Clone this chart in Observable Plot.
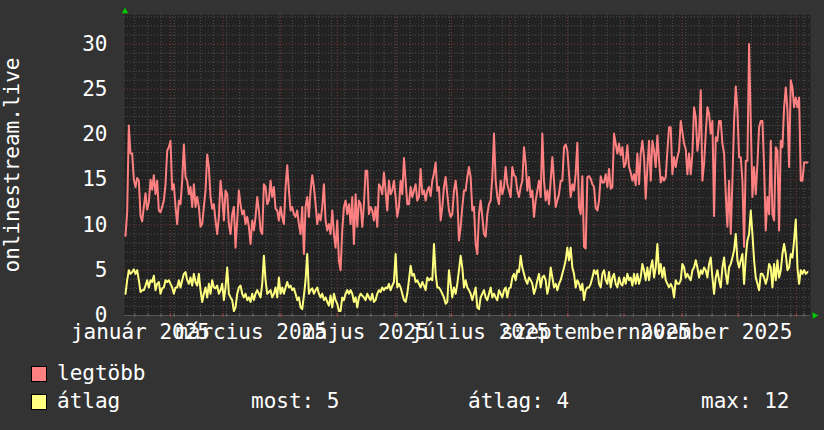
<!DOCTYPE html>
<html>
<head>
<meta charset="utf-8">
<script src="https://cdn.jsdelivr.net/npm/d3@7"></script>
<script src="https://cdn.jsdelivr.net/npm/@observablehq/plot@0.6"></script>
<style>
  html, body { margin: 0; padding: 0; background: #333333; }
  #wrap { position: relative; width: 824px; height: 430px; background: #333333; overflow: hidden;
          font-family: "DejaVu Sans Mono", monospace; color: #ffffff; }
  #chart svg { display: block; }
  .sw { position: absolute; width: 14px; height: 14px; border: 1px solid #000; }
  .lt { position: absolute; font-size: 21px; line-height: 24px; white-space: pre; }
</style>
</head>
<body>
<div id="wrap">
  <div id="chart"></div>
  <div id="legend"></div>
</div>
<script>
// ---------------- data ----------------
const axisTitle = "onlinestream.live";
const seriesNames = ["legtöbb", "átlag"];
const seriesColors = ["#ff8080", "#ffff80"];
const statLabels = ["most: 5", "átlag: 4", "max: 12"];

const yTicks = [0, 5, 10, 15, 20, 25, 30];
const yMax = 33.26;

const xLabels = ["január 2025", "március 2025", "május 2025", "július 2025", "szeptember 2025", "november 2025"];
const xLabelDates = ["2025-01-16", "2025-03-16", "2025-05-16", "2025-07-16", "2025-09-16", "2025-11-16"];

const rangeStart = "2025-01-07T12:00:00Z";
const rangeEnd = "2026-01-08T12:00:00Z";
const firstSample = "2025-01-08T00:48:00Z";
const sampleStepHours = 21.35;

const legtobb = [
  8.8, 11.4, 21.0, 17.9, 17.9, 15.0, 14.2, 15.2, 14.9, 11.0,
  10.4, 12.0, 13.5, 11.7, 12.5, 15.0, 13.9, 15.5, 13.4, 14.9,
  11.6, 11.4, 12.0, 12.7, 14.5, 18.2, 18.6, 19.3, 13.9, 14.5,
  12.0, 10.1, 12.7, 12.3, 14.9, 18.9, 15.3, 14.9, 13.4, 14.2,
  12.0, 14.5, 12.0, 13.1, 12.0, 9.8, 10.1, 12.0, 13.8, 17.8,
  16.4, 13.1, 11.8, 12.3, 10.5, 9.0, 10.9, 14.9, 13.1, 10.5,
  13.8, 13.4, 10.1, 9.0, 11.2, 12.0, 7.5, 10.5, 13.8, 12.3,
  11.2, 11.6, 10.1, 10.9, 9.8, 7.9, 10.5, 9.4, 10.9, 13.1,
  11.6, 9.4, 9.0, 14.5, 14.2, 12.3, 12.7, 14.9, 13.1, 14.2,
  11.8, 11.6, 10.5, 12.0, 10.9, 10.1, 14.2, 16.6, 13.8, 11.6,
  12.0, 11.2, 10.9, 11.6, 10.1, 9.0, 12.0, 6.8, 12.0, 13.1,
  10.9, 13.8, 15.5, 14.2, 12.3, 10.1, 11.2, 10.5, 12.0, 14.5,
  10.5, 9.4, 10.1, 9.0, 11.6, 9.0, 7.5, 10.5, 6.1, 5.0,
  9.4, 12.0, 12.7, 11.2, 12.3,
  10.1, 13.1, 7.9, 13.4, 9.8, 12.7, 12.3, 9.8, 12.3, 16.0,
  16.0, 11.2, 12.0, 11.6, 10.5, 12.0, 9.8, 14.5, 14.2, 13.4,
  15.8, 13.8, 11.6, 14.9, 13.4, 13.8, 14.9, 13.1, 10.9, 12.0,
  14.9, 13.4, 17.4, 14.9, 12.3, 12.3, 14.2, 13.1, 13.8, 14.5,
  12.7, 13.1, 16.2, 13.4, 13.8, 12.7, 13.8, 14.2, 13.2, 14.9,
  15.7, 16.9, 13.8, 14.2, 10.5, 12.0, 14.2, 15.3, 13.4, 11.6,
  10.9, 11.2, 13.8, 14.9, 13.1, 8.3, 9.8, 12.0, 13.8, 13.8,
  15.3, 16.4, 15.3, 11.6, 12.0, 7.9, 6.8, 11.2, 12.7, 10.9,
  9.0, 8.7, 11.2, 12.3, 12.7, 15.3, 20.1, 14.9, 13.1, 12.3,
  14.9, 13.4, 14.2, 16.4, 14.5, 13.8, 13.1, 16.4, 15.5, 15.3,
  13.8, 13.1, 14.2, 14.9, 18.6, 16.8, 13.8, 15.3, 13.1, 13.8,
  10.9, 12.7, 13.8, 14.9, 13.1, 20.1, 14.9, 12.7, 13.8, 12.3,
  14.9, 17.5, 14.9, 12.0, 12.7, 13.4, 14.9, 14.9, 18.6, 18.9,
  18.2, 15.7, 13.1, 14.5, 13.8, 15.7, 19.1, 12.0,
  11.2, 15.4, 7.6, 7.4, 15.3, 15.4, 15.1, 14.5, 14.2, 11.9,
  11.6, 12.7, 15.4, 14.7, 14.7, 15.6, 14.2, 16.2, 14.0, 14.2,
  20.1, 19.0, 17.9, 19.0, 17.7, 18.6, 16.4, 16.8, 18.8, 16.4,
  15.8, 14.9, 15.6, 14.4, 17.9, 14.5, 17.9, 19.3, 17.5, 12.9,
  16.4, 19.3, 14.9, 19.3, 18.2, 16.4, 19.9, 17.1, 14.7, 15.3,
  14.9, 15.3, 18.2, 20.8, 20.8, 15.6, 17.5, 16.4, 17.5, 18.2,
  21.5, 20.3, 19.0, 18.4, 15.6, 17.9, 15.6, 17.9, 23.0, 21.9,
  18.2, 19.7, 24.9, 14.9, 16.8, 20.1, 23.0, 22.3, 20.1, 21.5,
  11.0, 19.7, 19.3, 21.5, 21.5, 19.0, 17.9, 13.4, 9.8, 14.9,
  9.0, 14.9, 21.5, 25.3, 22.7, 17.5, 17.5, 14.9, 7.6, 17.1,
  17.1, 30.0, 21.5, 13.1, 16.4, 13.4, 16.8, 20.8, 21.5, 21.5,
  16.4, 9.4, 13.1, 11.2, 19.3, 11.2, 10.5, 18.6, 18.2, 9.4,
  19.3, 18.6, 23.0, 25.2, 22.7, 16.4, 26.0, 25.2, 23.0, 24.1,
  23.0, 24.1, 14.9, 14.9, 16.9, 16.9, 16.9
];

const atlag = [
  2.4, 3.9, 5.0, 4.6, 4.8, 5.1, 4.6, 5.0, 3.9, 2.6,
  2.8, 2.8, 3.3, 3.9, 3.1, 3.9, 3.7, 4.4, 2.8, 3.5,
  3.7, 2.4, 3.0, 3.1, 3.9, 3.7, 3.9, 3.5, 3.1, 2.4,
  3.1, 3.1, 3.9, 3.1, 3.9, 4.6, 4.8, 3.9, 3.5, 4.2,
  3.3, 4.6, 3.7, 3.3, 4.6, 2.8, 1.5, 2.4, 3.1, 2.0,
  3.5, 2.4, 3.9, 3.1, 3.0, 3.3, 2.4, 2.8, 3.5, 1.7,
  3.1, 5.3, 2.4, 2.0, 1.7, 0.5, 0.9, 2.4, 3.1, 3.3,
  2.4, 2.0, 2.4, 1.7, 2.0, 1.5, 2.4, 1.7, 2.4, 2.8,
  2.4, 2.0, 3.5, 6.6, 3.9, 2.4, 2.6, 2.8, 2.0, 2.4,
  3.1, 2.0, 4.2, 2.4, 3.1, 2.4, 3.1, 3.7, 3.1, 3.3,
  2.8, 3.0, 2.4, 1.7, 2.0, 0.9, 0.7, 2.2, 3.9, 6.8,
  2.4, 2.8, 3.0, 2.4, 2.8, 3.1, 2.4, 2.0, 2.4, 1.7,
  2.0, 1.5, 1.1, 2.2, 0.9, 2.4, 1.7, 1.3, 0.5, 0.5,
  2.0, 1.7, 2.4, 2.8, 2.4,
  2.8, 2.4, 1.5, 2.0, 0.9, 2.0, 2.4, 2.2, 2.0, 1.7,
  2.4, 2.0, 1.7, 2.4, 1.5, 1.7, 2.4, 2.8, 2.6, 3.1,
  2.8, 3.1, 3.0, 3.5, 2.8, 3.3, 3.7, 6.8, 3.1, 3.5,
  3.1, 2.4, 1.7, 1.5, 2.4, 3.9, 5.5, 4.4, 4.6, 3.7,
  3.9, 3.5, 3.1, 3.7, 3.3, 2.8, 4.2, 3.9, 4.1, 3.9,
  7.9, 4.6, 3.1, 3.1, 2.8, 2.4, 2.0, 1.3, 1.5, 5.0,
  3.5, 2.0, 3.1, 2.4, 3.5, 5.0, 6.6, 5.3, 3.1, 3.9,
  3.1, 2.8, 2.4, 1.7, 2.4, 3.1, 0.9, 0.7, 2.0, 2.4,
  2.8, 2.0, 1.7, 2.4, 3.1, 2.0, 2.4, 2.0, 1.7, 2.8,
  2.4, 2.0, 2.8, 3.1, 2.0, 3.0, 3.1, 4.2, 4.6, 3.9,
  5.0, 4.8, 6.6, 5.3, 4.6, 3.9, 3.5, 4.2, 3.9, 3.5,
  2.4, 3.0, 3.9, 4.6, 3.1, 4.2, 4.4, 3.9, 2.4, 3.3,
  5.3, 4.2, 3.1, 3.5, 2.8, 3.5, 3.9, 4.6, 5.3, 6.1,
  7.5, 6.1, 7.5, 5.3, 4.6, 3.1, 3.9, 3.5,
  2.8, 3.5, 1.7, 2.8, 3.1, 3.1, 3.5, 4.2, 5.0, 4.6,
  5.0, 3.5, 3.1, 4.6, 5.0, 3.9, 3.5, 4.8, 3.1, 4.2,
  4.6, 3.5, 3.1, 4.2, 3.5, 3.3, 4.2, 3.5, 4.6, 3.9,
  4.2, 3.3, 4.6, 3.5, 4.6, 3.5, 4.2, 5.7, 5.0, 3.9,
  5.3, 3.9, 5.3, 6.1, 4.2, 5.3, 7.9, 4.6, 5.7, 4.2,
  5.3, 3.9, 3.5, 3.1, 3.5, 3.1, 2.0, 3.9, 3.5, 3.5,
  3.9, 5.7, 5.3, 4.2, 4.6, 4.2, 3.9, 5.0, 5.3, 6.1,
  5.3, 4.2, 5.0, 4.6, 5.3, 5.0, 4.2, 5.7, 6.4, 4.2,
  2.4, 4.2, 5.0, 3.9, 3.1, 5.3, 6.4, 4.6, 3.5, 5.3,
  5.7, 6.4, 7.2, 9.0, 6.1, 5.3, 6.1, 6.8, 3.5, 6.4,
  8.3, 9.0, 11.6, 9.0, 6.1, 4.2, 3.5, 2.8, 4.6, 4.6,
  4.2, 3.5, 4.2, 5.7, 5.3, 3.1, 5.7, 3.9, 6.1, 4.2,
  5.0, 6.8, 7.9, 6.8, 5.0, 5.3, 6.8, 6.4, 8.3, 10.6,
  5.3, 3.5, 5.0, 4.6, 5.0, 4.6, 4.8
];

// ---------------- build ----------------
const t0 = new Date(rangeStart), t1 = new Date(rangeEnd);
const s0 = +new Date(firstSample);
const stepMs = sampleStepHours * 3600e3;
const toRows = (arr) => arr.map((v, i) => ({t: new Date(s0 + i * stepMs), v}));
const redRows = toRows(legtobb);
const yelRows = toRows(atlag);

const months = d3.utcMonth.range(t0, t1).filter(d => d > t0);
const weeks = d3.utcMonday.range(t0, t1).filter(d => d > t0);
const minorY = d3.range(1, Math.floor(yMax) + 1).filter(v => v % 5 !== 0);
const majorY = yTicks.filter(v => v > 0);
const labelDates = xLabelDates.map(s => new Date(s + "T00:00:00Z"));
const labelMap = new Map(labelDates.map((d, i) => [+d, xLabels[i]]));

const minorColor = "#525252";
const majorColor = "#783b3b";

const chart = Plot.plot({
  width: 824,
  height: 350,
  marginTop: 14,
  marginRight: 14,
  marginBottom: 35,
  marginLeft: 124,
  style: {background: "#333333", color: "#ffffff", fontFamily: "DejaVu Sans Mono", fontSize: "21px", overflow: "visible"},
  x: {type: "utc", domain: [t0, t1], axis: null},
  y: {domain: [0, yMax], axis: null},
  marks: [
    Plot.frame({fill: "#222222", stroke: "none"}),
    Plot.ruleY(minorY, {stroke: minorColor, strokeDasharray: "1,2"}),
    Plot.ruleX(weeks, {stroke: minorColor, strokeDasharray: "1,2"}),
    Plot.ruleY(majorY, {stroke: majorColor, strokeDasharray: "1,2"}),
    Plot.ruleX(months, {stroke: majorColor, strokeDasharray: "1,2"}),
    Plot.ruleY([0], {stroke: "#555555"}),
    Plot.ruleX(weeks, {y1: 0, y2: 0, insetTop: -2, insetBottom: -2, stroke: "#666666"}),
    Plot.ruleX(months, {y1: 0, y2: 0, insetTop: -2, insetBottom: -2, stroke: "#a04545"}),
    Plot.line(redRows, {x: "t", y: "v", stroke: seriesColors[0], strokeWidth: 2}),
    Plot.line(yelRows, {x: "t", y: "v", stroke: seriesColors[1], strokeWidth: 2}),
    Plot.axisY(yTicks, {label: null, tickSize: 0, tickPadding: 17, fill: "#ffffff", fontSize: 21}),
    Plot.axisX(labelDates, {label: null, tickSize: 0, tickPadding: 9, fill: "#ffffff", fontSize: 21,
      tickFormat: d => labelMap.get(+d)}),
    Plot.text([axisTitle], {frameAnchor: "left", textAnchor: "middle", lineAnchor: "middle", dx: -112, rotate: -90, fill: "#ffffff", fontSize: 21}),
    Plot.dot([{t: t0, v: yMax}], {x: "t", y: "v", symbol: "triangle", r: 2.4, fill: "#00cc00", stroke: "none", dx: 0.5, dy: -3}),
    Plot.dot([{t: t1, v: 0}], {x: "t", y: "v", symbol: "triangle", r: 2.4, fill: "#00cc00", stroke: "none", dx: 4, rotate: 90})
  ]
});
document.getElementById("chart").appendChild(chart);

// ---------------- legend ----------------
const legend = document.getElementById("legend");
function add(cls, css, text) {
  const el = document.createElement("div");
  el.className = cls;
  Object.assign(el.style, css);
  if (text != null) el.textContent = text;
  legend.appendChild(el);
}
const rowTops = [361, 389];
seriesNames.forEach((name, i) => {
  add("sw", {left: "31px", top: (rowTops[i] + 5) + "px", background: seriesColors[i]});
  add("lt", {left: "57px", top: rowTops[i] + "px"}, name);
});
const statLefts = [251, 468, 701];
statLabels.forEach((s, i) => add("lt", {left: statLefts[i] + "px", top: rowTops[1] + "px"}, s));
</script>
</body>
</html>
